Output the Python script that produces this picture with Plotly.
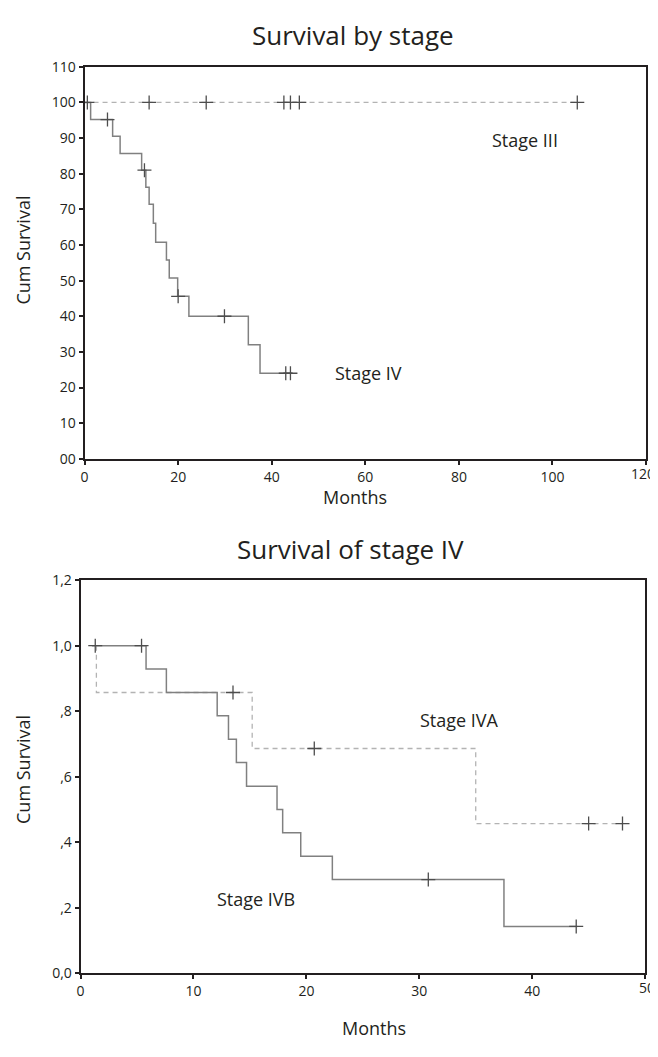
import plotly.graph_objects as go

# ---------------- data: top chart (Survival by stage) ----------------
stage4_months = [0, 1.3, 6.0, 7.6, 12.2, 13.1, 13.8, 14.7, 15.2, 17.5, 18.1, 19.9, 22.3, 35.0, 37.5, 44.3]
stage4_surv = [100, 95.2, 90.5, 85.7, 81.0, 76.2, 71.4, 66.1, 60.8, 55.8, 50.7, 45.6, 40.0, 32.0, 24.0, 24.0]
stage4_cens_months = [0.6, 4.9, 12.8, 20.0, 29.9, 43.0, 44.0]
stage4_cens_surv = [100, 95.2, 81.0, 45.6, 40.0, 24.0, 24.0]

stage3_months = [0, 105.3]
stage3_surv = [100, 100]
stage3_cens_months = [13.8, 26.0, 42.6, 44.0, 45.9, 105.3]
stage3_cens_surv = [100, 100, 100, 100, 100, 100]

top_ytickvals = [0, 10, 20, 30, 40, 50, 60, 70, 80, 90, 100, 110]
top_yticktext = ["00", "10", "20", "30", "40", "50", "60", "70", "80", "90", "100", "110"]
top_xtickvals = [0, 20, 40, 60, 80, 100, 120]
top_xticktext = ["0", "20", "40", "60", "80", "100", ""]   # "120" drawn as text so it is not clipped
top_xlast_label = "120"

# ---------------- data: bottom chart (Survival of stage IV) ----------------
ivb_months = [1.0, 5.8, 7.6, 12.1, 13.1, 13.8, 14.7, 17.4, 17.9, 19.5, 22.3, 37.5, 44.0]
ivb_surv = [1.0, 0.929, 0.857, 0.786, 0.714, 0.643, 0.571, 0.5, 0.429, 0.357, 0.286, 0.143, 0.143]
ivb_cens_months = [1.3, 5.4, 30.8, 43.9]
ivb_cens_surv = [1.0, 1.0, 0.286, 0.143]

iva_months = [1.4, 1.4, 15.2, 35.0, 48.0]
iva_surv = [1.0, 0.857, 0.686, 0.457, 0.457]
iva_cens_months = [13.5, 20.7, 45.0, 48.0]
iva_cens_surv = [0.857, 0.686, 0.457, 0.457]

bot_ytickvals = [0, 0.2, 0.4, 0.6, 0.8, 1.0, 1.2]
bot_yticktext = ["0,0", ",2", ",4", ",6", ",8", "1,0", "1,2"]
bot_xtickvals = [0, 10, 20, 30, 40, 50]
bot_xticktext = ["0", "10", "20", "30", "40", ""]   # "50" drawn as text so it is not clipped
bot_xlast_label = "50"

# ---------------- styling ----------------
PAGE_OFF = 8                      # default body margin of the html page
W, H = 658 - PAGE_OFF, 1057 - 2 * PAGE_OFF
FONT = "Open Sans"
SOLID = "#808080"
DASHED = "#b3b3b3"
MARK = "#4d4d4d"
AXIS = "#231f20"
TICK_SIZE = 14


def px_x(p):
    return (p - PAGE_OFF) / W


def px_y(p):
    return 1 - (p - PAGE_OFF) / H


fig = go.Figure()


def add_curve(x, y, xa, ya, color, dash, width):
    fig.add_trace(go.Scatter(x=x, y=y, mode="lines", line_shape="hv",
                             line=dict(color=color, width=width, dash=dash),
                             xaxis=xa, yaxis=ya, showlegend=False, hoverinfo="skip"))


def add_cens(x, y, xa, ya):
    fig.add_trace(go.Scatter(x=x, y=y, mode="markers",
                             marker=dict(symbol="cross-thin", size=10,
                                         line=dict(width=1.3, color=MARK)),
                             xaxis=xa, yaxis=ya, showlegend=False, hoverinfo="skip"))


# top chart
add_curve(stage3_months, stage3_surv, "x", "y", DASHED, "5px,4px", 1.3)
add_curve(stage4_months, stage4_surv, "x", "y", SOLID, "solid", 1.5)
add_cens(stage3_cens_months, stage3_cens_surv, "x", "y")
add_cens(stage4_cens_months, stage4_cens_surv, "x", "y")

# bottom chart
add_curve(iva_months, iva_surv, "x2", "y2", DASHED, "5px,4px", 1.3)
add_curve(ivb_months, ivb_surv, "x2", "y2", SOLID, "solid", 1.5)
add_cens(iva_cens_months, iva_cens_surv, "x2", "y2")
add_cens(ivb_cens_months, ivb_cens_surv, "x2", "y2")

tickfont = dict(family=FONT, size=TICK_SIZE, color=AXIS)
axis_common = dict(showgrid=False, zeroline=False, showline=True, mirror=True,
                   linecolor=AXIS, linewidth=2, ticks="outside", ticklen=4,
                   tickcolor=AXIS, tickwidth=1.5, tickfont=tickfont)

fig.update_layout(
    width=W, height=H,
    margin=dict(l=0, r=0, t=0, b=0),
    paper_bgcolor="white", plot_bgcolor="white",
    xaxis=dict(domain=[px_x(81), px_x(646)], range=[0, 120], tickvals=top_xtickvals,
               ticktext=top_xticktext, anchor="y", **axis_common),
    yaxis=dict(domain=[px_y(457), px_y(57.7)], range=[0, 110], tickvals=top_ytickvals,
               ticktext=top_yticktext, anchor="x", **axis_common),
    xaxis2=dict(domain=[px_x(77), px_x(645)], range=[0, 50], tickvals=bot_xtickvals,
                ticktext=bot_xticktext, anchor="y2", **axis_common),
    yaxis2=dict(domain=[px_y(981), px_y(580.6)], range=[0, 1.2], tickvals=bot_ytickvals,
                ticktext=bot_yticktext, anchor="x2", **axis_common),
)

ann = []


def paper_text(text, x, y, size, angle=0, xanchor="center"):
    ann.append(dict(text=text, x=px_x(x), y=px_y(y), xref="paper", yref="paper",
                    showarrow=False, textangle=angle, xanchor=xanchor, yanchor="middle",
                    font=dict(family=FONT, size=size, color=AXIS)))


def data_text(text, x, y, xref, yref):
    ann.append(dict(text=text, x=x, y=y, xref=xref, yref=yref, showarrow=False,
                    xanchor="left", yanchor="middle",
                    font=dict(family=FONT, size=18, color=AXIS)))


paper_text("Survival by stage", 351, 25, 26)
paper_text("Survival of stage IV", 349, 549, 26)
paper_text("Cum Survival", 19, 244, 18, -90)
paper_text("Cum Survival", 19, 773, 18, -90)
paper_text("Months", 353, 496, 18)
paper_text("Months", 372, 1037, 18)
# last x tick labels, kept inside the page edge
paper_text(top_xlast_label, 657, 472, TICK_SIZE, xanchor="right")
paper_text(bot_xlast_label, 657, 996, TICK_SIZE, xanchor="right")

data_text("Stage III", 86.6, 89.5, "x", "y")
data_text("Stage IV", 53, 24, "x", "y")
data_text("Stage IVA", 29.9, 0.772, "x2", "y2")
data_text("Stage IVB", 11.9, 0.228, "x2", "y2")

fig.update_layout(annotations=ann)

fig.write_html("out.html")
